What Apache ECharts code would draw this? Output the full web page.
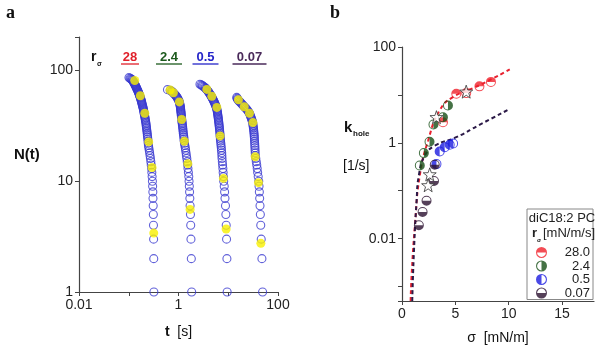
<!DOCTYPE html>
<html>
<head>
<meta charset="utf-8">
<script src="https://cdn.jsdelivr.net/npm/echarts@6/dist/echarts.min.js"></script>
<style>
html, body { margin: 0; padding: 0; background: #fff; }
#chart { width: 600px; height: 350px; }
</style>
</head>
<body>
<div id="chart"></div>
<script>
// ---- panel a: t [s] for N = 1, 2, 3 ... (one entry per remaining hole)
const t28 = [0.320,0.318,0.316,0.314,0.312,0.310,0.307,0.305,0.302,0.299,
  0.295,0.291,0.288,0.283,0.278,0.273,0.268,0.263,0.258,0.253,
  0.249,0.246,0.244,0.242,0.239,0.237,0.235,0.233,0.230,0.228,
  0.226,0.224,0.222,0.220,0.217,0.215,0.213,0.211,0.208,0.206,
  0.204,0.202,0.200,0.198,0.196,0.194,0.192,0.189,0.187,0.185,
  0.183,0.181,0.179,0.177,0.175,0.173,0.171,0.168,0.166,0.164,
  0.162,0.160,0.157,0.155,0.153,0.151,0.149,0.146,0.144,0.142,
  0.140,0.138,0.136,0.134,0.132,0.130,0.128,0.126,0.124,0.122,
  0.120,0.117,0.114,0.110,0.106,0.101]
const t24 = [1.84,1.81,1.78,1.76,1.74,1.71,1.69,1.67,1.65,1.63,
  1.61,1.58,1.55,1.53,1.50,1.47,1.44,1.42,1.39,1.37,
  1.34,1.32,1.30,1.29,1.28,1.265,1.25,1.24,1.23,1.22,
  1.21,1.20,1.19,1.18,1.17,1.16,1.155,1.15,1.14,1.135,
  1.13,1.12,1.115,1.11,1.10,1.095,1.09,1.08,1.07,1.06,
  1.05,1.04,1.02,1.00,0.98,0.96,0.94,0.91,0.89,0.86,
  0.83,0.80,0.78,0.75,0.72,0.68,0.60]
const t05 = [9.5,9.4,9.25,9.1,8.95,8.8,8.6,8.45,8.3,8.1,
  8.0,7.9,7.8,7.7,7.6,7.5,7.45,7.4,7.3,7.25,
  7.15,7.1,7.0,6.95,6.9,6.85,6.8,6.75,6.7,6.65,
  6.6,6.55,6.5,6.45,6.4,6.35,6.3,6.25,6.2,6.15,
  6.1,6.05,6.0,5.95,5.85,5.8,5.7,5.6,5.5,5.4,
  5.3,5.2,5.1,5.0,4.9,4.8,4.7,4.6,4.5,4.4,
  4.3,4.2,4.1,4.0,3.9,3.8,3.7,3.6,3.5,3.4,
  3.25,3.1,3.0,2.85,2.7]
const t007 = [49,47.5,46,45,44.2,43.5,42.8,42.2,41.6,41,
  40,39,38.2,37.4,36.6,35.8,35,34.8,34.6,34.4,
  34.2,34,33.8,33.6,33.4,33.2,33,32.7,32.4,32.1,
  31.8,31.5,31.2,30.9,30.3,29.7,29.1,28.5,27.9,27.3,
  26.7,25.8,24.9,24,23,22,21,20.2,19.4,18.6,
  17.8,17.1,16.4,15.8,15.4,15.1,14.8]

// yellow points [t, N]
const yel28 = [[0.132,81],[0.171,59],[0.210,41],[0.252,22.6],[0.294,13.3],[0.318,3.4]]
const yel24 = [[0.678,66.5],[0.79,62.8],[1.04,51.9],[1.16,36],[1.31,22.9],[1.54,14.4],[1.71,5.56]]
const yel05 = [[3.71,67.3],[4.68,58.3],[5.9,46.3],[6.87,25.6],[8.0,10.6],[9.07,3.7]]
const yel007 = [[16.0,54.2],[20.9,47],[26.7,41],[31.3,33.8],[34.8,16.6],[40.5,9.7],[45.2,2.75]]

const rateLabels = ['28', '2.4', '0.5', '0.07']
const rateColors = ['#e0202a', '#1d5a1d', '#2424c8', '#4a2a5a']

// ---- panel b: [sigma mN/m, k_hole 1/s]
const legendNames = ['28.0', '2.4', '0.5', '0.07']
const pts28 = [[3.84,2.69],[5.09,10.6],[6.02,10.9],[7.26,15.1],[8.34,18.7]]
const pts24 = [[1.67,0.335],[2.05,0.61],[2.58,1.05],[2.95,2.41],[3.84,3.43],[4.31,6.0]]
const pts05 = [[3.23,0.36],[3.53,0.66],[4.0,0.81],[4.47,0.91],[4.79,0.97]]
const pts007 = [[1.58,0.019],[1.93,0.036],[2.3,0.062],[3.0,0.16],[3.07,0.35]]
const stars = [[6.02,11.7],[3.23,3.43],[2.6,0.22],[2.45,0.13]]
const fitHigh = [[0.81,0.0005],[0.9,0.0017],[1.21,0.0185],[1.67,0.21],[2.45,1.12],[3.53,4.75],[4.77,9.0],[7.26,15.9],[10.1,34]]
const fitLow = [[0.96,0.0005],[1.12,0.0055],[1.37,0.062],[1.58,0.21],[2.14,0.54],[3.07,0.87],[5.09,1.31],[7.26,2.37],[10.1,5.1]]

// half filled circles: ring + filled half (white half cut out)
const ring = 'M0,10 A10,10 0 1,1 20,10 A10,10 0 1,1 0,10 Z '
const halfTop = 'path://' + ring + 'M2,10 A8,8 0 0,0 18,10 Z'
const halfRight = 'path://' + ring + 'M10,2 A8,8 0 0,0 10,18 Z'
const halfLeft = 'path://' + ring + 'M10,18 A8,8 0 0,0 10,2 Z'
const halfBottom = 'path://' + ring + 'M18,10 A8,8 0 0,0 2,10 Z'
const starPath = 'path://M10,0 L12.35,6.76 L19.51,6.91 L13.8,11.24 L15.88,18.09 L10,14 L4.12,18.09 L6.2,11.24 L0.49,6.91 L7.65,6.76 Z'

const decadeLabel = (onlyEven) => (v) => {
  const e = Math.round(Math.log10(v))
  if (Math.abs(Math.log10(v) - e) > 0.01) return ''
  if (onlyEven && e % 2 !== 0) return ''
  return e < 0 ? Math.pow(10, e).toFixed(-e) : String(Math.round(Math.pow(10, e)))
}

const axisColor = '#444'
const labelFont = { fontSize: 14, color: '#222', fontFamily: 'Liberation Sans' }

let chart = echarts.init(document.getElementById('chart'))

const blueSeries = [t28, t24, t05, t007].map(arr => ({
  type: 'scatter',
  xAxisIndex: 0, yAxisIndex: 0,
  symbol: 'circle',
  symbolSize: 8,
  itemStyle: { color: 'rgba(255,255,255,0)', borderColor: '#3a3ad0', borderWidth: 1.1 },
  data: arr.map((t, i) => [t, i + 1]),
  z: 2
}))

const halfSeries = [[pts28, halfTop], [pts24, halfRight], [pts05, halfLeft], [pts007, halfBottom]].map((p, i) => ({
  name: legendNames[i],
  type: 'scatter',
  xAxisIndex: 1, yAxisIndex: 1,
  symbol: p[1],
  symbolSize: 10,
  itemStyle: { color: [ '#f0202a', '#174f17', '#1c1ce0', '#2a1030' ][i] },
  data: p[0],
  z: 4
}))

const option = {
  animation: false,
  backgroundColor: '#fff',
  textStyle: { fontFamily: 'Liberation Sans' },
  grid: [
    { left: 79, top: 37, width: 199, height: 255 },
    { left: 402, top: 47, width: 192, height: 254 }
  ],
  xAxis: [
    {
      gridIndex: 0, type: 'log', logBase: 10, min: 0.01, max: 100,
      axisLine: { lineStyle: { color: axisColor, width: 1.2 } },
      axisTick: { length: 4, lineStyle: { color: axisColor } },
      axisLabel: Object.assign({ formatter: decadeLabel(true), margin: 6 }, labelFont),
      splitLine: { show: false },
      name: '{b|t}  [s]', nameLocation: 'middle', nameGap: 33,
      nameTextStyle: { fontSize: 14, color: '#111', rich: { b: { fontSize: 14, fontWeight: 'bold', color: '#111' } } }
    },
    {
      gridIndex: 1, type: 'value', min: 0, max: 18, interval: 5,
      axisLine: { lineStyle: { color: axisColor, width: 1.2 } },
      axisTick: { length: 4, lineStyle: { color: axisColor } },
      axisLabel: Object.assign({ margin: 6, showMaxLabel: false }, labelFont),
      splitLine: { show: false },
      name: 'σ  [mN/m]', nameLocation: 'middle', nameGap: 30,
      nameTextStyle: { fontSize: 14, color: '#111' }
    }
  ],
  yAxis: [
    {
      gridIndex: 0, type: 'log', logBase: 10, min: 1, max: 200,
      axisLine: { show: true, lineStyle: { color: axisColor, width: 1.2 } },
      axisTick: { show: true, length: 4, lineStyle: { color: axisColor } },
      axisLabel: Object.assign({ formatter: decadeLabel(false), margin: 6 }, labelFont),
      splitLine: { show: false }
    },
    {
      gridIndex: 1, type: 'log', logBase: 10, min: 0.0005, max: 100,
      axisLine: { show: true, lineStyle: { color: axisColor, width: 1.2 } },
      axisTick: { show: true, length: 4, lineStyle: { color: axisColor } },
      axisLabel: Object.assign({ formatter: decadeLabel(true), margin: 6 }, labelFont),
      splitLine: { show: false }
    }
  ],
  legend: {
    data: legendNames,
    orient: 'vertical',
    left: 527, top: 209,
    padding: [37, 3, 0, 9],
    itemGap: 0.5,
    itemWidth: 11, itemHeight: 11,
    borderColor: '#888', borderWidth: 1,
    formatter: name => '{v|' + name + '}',
    textStyle: {
      fontSize: 13, color: '#222', lineHeight: 12,
      rich: { v: { fontSize: 13, color: '#222', width: 38, align: 'right', lineHeight: 12 } }
    }
  },
  graphic: [
    { type: 'text', left: 6, top: 4, style: { text: 'a', font: 'bold 18px "Liberation Serif"', fill: '#111' } },
    { type: 'text', left: 330, top: 4, style: { text: 'b', font: 'bold 18px "Liberation Serif"', fill: '#111' } },
    { type: 'text', left: 14, top: 147, style: { text: 'N(t)', font: 'bold 15px "Liberation Sans"', fill: '#111' } },
    { type: 'text', left: 91, top: 50, style: { text: 'r', font: 'bold 14px "Liberation Sans"', fill: '#111' } },
    { type: 'text', left: 97, top: 61, style: { text: 'σ', font: 'bold 7px "Liberation Sans"', fill: '#111' } },
    ...[130, 169, 205.5, 249.5].flatMap((cx, i) => [
      { type: 'text', x: cx, y: 51, style: { text: rateLabels[i], font: 'bold 13px "Liberation Sans"', fill: rateColors[i], align: 'center' } },
      { type: 'line', shape: { x1: cx - rateLabels[i].length * 4 - 1, y1: 64, x2: cx + rateLabels[i].length * 4 + 1, y2: 64 }, style: { stroke: rateColors[i], lineWidth: 1.3 } }
    ]),
    { type: 'text', left: 344, top: 120, style: { text: 'k', font: 'bold 15px "Liberation Sans"', fill: '#111' } },
    { type: 'text', left: 353, top: 130, style: { text: 'hole', font: 'bold 8px "Liberation Sans"', fill: '#111' } },
    { type: 'text', left: 343, top: 159, style: { text: '[1/s]', font: '14px "Liberation Sans"', fill: '#111' } },
    { type: 'text', x: 562, y: 212, z: 10, style: { text: 'diC18:2 PC', font: '13px "Liberation Sans"', fill: '#222', align: 'center' } },
    { type: 'text', x: 532, y: 227, z: 10, style: { text: 'r', font: 'bold 13px "Liberation Sans"', fill: '#222' } },
    { type: 'text', x: 537, y: 237, z: 10, style: { text: 'σ', font: 'bold 6px "Liberation Sans"', fill: '#222' } },
    { type: 'text', x: 543, y: 227, z: 10, style: { text: '[mN/m/s]', font: '13px "Liberation Sans"', fill: '#222' } }
  ],
  series: [
    ...blueSeries,
    {
      type: 'scatter',
      xAxisIndex: 0, yAxisIndex: 0,
      symbolSize: 9,
      itemStyle: { color: '#f8f000' },
      data: [...yel28, ...yel24, ...yel05, ...yel007],
      z: 3
    },
    {
      type: 'line', xAxisIndex: 1, yAxisIndex: 1,
      smooth: true, showSymbol: false,
      lineStyle: { color: '#e8202e', width: 2, type: [4, 3] },
      data: fitHigh, z: 2
    },
    {
      type: 'line', xAxisIndex: 1, yAxisIndex: 1,
      smooth: true, showSymbol: false,
      lineStyle: { color: '#2c1a48', width: 2, type: [4, 3] },
      data: fitLow, z: 2
    },
    ...halfSeries,
    {
      type: 'scatter', xAxisIndex: 1, yAxisIndex: 1,
      symbol: starPath, symbolSize: 13,
      itemStyle: { color: '#fff', borderColor: '#333', borderWidth: 1 },
      data: stars, z: 5
    }
  ]
}
chart.setOption(option)

window.addEventListener('resize', () => {
  chart && chart.resize()
})
</script>
</body>
</html>
